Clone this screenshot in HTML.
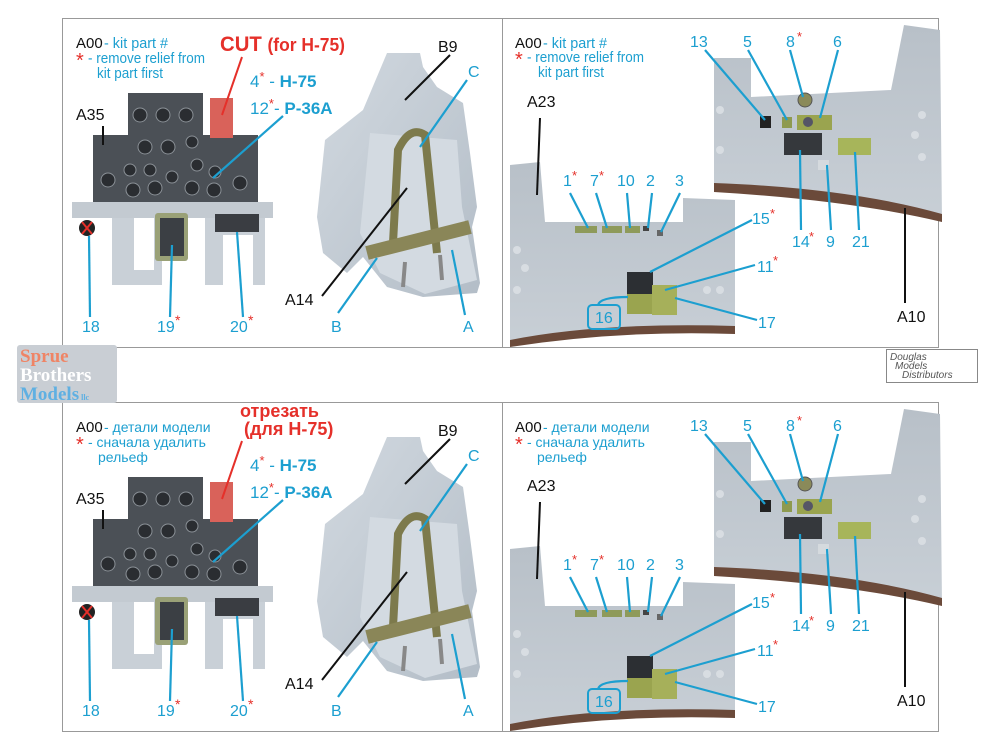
<!DOCTYPE html>
<html><head><meta charset="utf-8"><style>
html,body{margin:0;padding:0;background:#fff;width:1000px;height:750px;overflow:hidden}
svg text{font-family:"Liberation Sans",sans-serif}
.b{fill:#1c9fd0}.k{fill:#111}.r{fill:#e5302a}
.lb{stroke:#1c9fd0;stroke-width:2.2;fill:none}
.lk{stroke:#111;stroke-width:2;fill:none}
</style></head><body>
<svg width="1000" height="750" viewBox="0 0 1000 750" xmlns="http://www.w3.org/2000/svg">
<defs>
<linearGradient id="gs" x1="0" y1="0" x2="1" y2="1"><stop offset="0" stop-color="#d2d9e0"/><stop offset="1" stop-color="#b3bdc7"/></linearGradient>
<linearGradient id="gw" x1="0" y1="0" x2="0" y2="1"><stop offset="0" stop-color="#b8c0c8"/><stop offset="1" stop-color="#c8cfd6"/></linearGradient>
<g id="L">
 <rect x="72" y="202" width="201" height="16" fill="#c3cad1"/>
 <path d="M112 218h22v52h20v-52h8v67h-50z" fill="#c9d0d7"/>
 <path d="M205 218h60v67h-12v-50h-30v50h-18z" fill="#c9d0d7"/>
 <rect x="155" y="213" width="33" height="48" rx="3" fill="#9aa177"/>
 <rect x="160" y="218" width="24" height="38" fill="#3b3f44"/>
 <rect x="215" y="214" width="44" height="18" fill="#3a3d42"/>
 <circle cx="87" cy="228" r="8" fill="#222"/><path d="M82 222l10 12M92 222l-10 12" stroke="#e5302a" stroke-width="2"/>
 <path d="M128 93h75v42h55v67H93v-67h35z" fill="#4b5056"/>
 <g fill="#2a2d31" stroke="#8a9096" stroke-width="1">
 <circle cx="140" cy="115" r="7"/><circle cx="163" cy="115" r="7"/><circle cx="186" cy="115" r="7"/>
 <circle cx="145" cy="147" r="7"/><circle cx="168" cy="147" r="7"/><circle cx="192" cy="142" r="6"/>
 <circle cx="130" cy="170" r="6"/><circle cx="150" cy="170" r="6"/><circle cx="172" cy="177" r="6"/><circle cx="197" cy="165" r="6"/><circle cx="215" cy="172" r="6"/>
 <circle cx="133" cy="190" r="7"/><circle cx="155" cy="188" r="7"/><circle cx="192" cy="188" r="7"/><circle cx="214" cy="190" r="7"/><circle cx="108" cy="180" r="7"/><circle cx="240" cy="183" r="7"/>
 </g>
 <rect x="210" y="98" width="23" height="40" fill="#d9625a"/>
 <path d="M387 53L420 53L423 67L437 87L463 103L470 153L477 207L472 227L480 283L477 293L423 297L387 287L363 257L347 273L323 253L317 217L325 140L363 110Z" fill="url(#gs)"/>
 <path d="M370 133L457 140L462 207L477 280L425 294L380 273L360 233Z" fill="#d3dae1"/>
 <path d="M393 243L398 150Q410 125 425 135L437 253" stroke="#7d7a4c" stroke-width="8" fill="none"/>
 <path d="M367 253L470 227" stroke="#8a8658" stroke-width="14" fill="none"/>
 <path d="M405 262l-2 25M440 255l2 25" stroke="#888" stroke-width="4"/>
 <text x="76" y="48" font-size="15" class="k">A00</text>
 <text x="76" y="120" font-size="16" class="k">A35</text>
 <line x1="103" y1="126" x2="103" y2="145" class="lk"/>
 <text x="438" y="52" font-size="16" class="k">B9</text>
 <text x="468" y="77" font-size="16" class="b">C</text>
 <text x="285" y="305" font-size="16" class="k">A14</text>
 <text x="331" y="332" font-size="16" class="b">B</text>
 <text x="463" y="332" font-size="16" class="b">A</text>
 <text x="82" y="332" font-size="16" class="b">18</text>
 <text x="157" y="332" font-size="16" class="b">19</text><text x="175" y="325" font-size="14" class="r">*</text>
 <text x="230" y="332" font-size="16" class="b">20</text><text x="248" y="325" font-size="14" class="r">*</text>
 <text x="250" y="87" font-size="17" class="b">4<tspan class="r" font-size="13" dy="-6">*</tspan><tspan dy="6"> - </tspan><tspan font-weight="bold">H-75</tspan></text>
 <text x="250" y="114" font-size="17" class="b">12<tspan class="r" font-size="13" dy="-6">*</tspan><tspan dy="6">- </tspan><tspan font-weight="bold">P-36A</tspan></text>
 <line x1="283" y1="116" x2="213" y2="178" class="lb"/>
 <line x1="90" y1="317" x2="89" y2="236" class="lb"/>
 <line x1="170" y1="317" x2="172" y2="245" class="lb"/>
 <line x1="243" y1="317" x2="237" y2="232" class="lb"/>
 <line x1="338" y1="313" x2="377" y2="258" class="lb"/>
 <line x1="465" y1="315" x2="452" y2="250" class="lb"/>
 <line x1="467" y1="80" x2="420" y2="147" class="lb"/>
 <line x1="450" y1="55" x2="405" y2="100" class="lk"/>
 <line x1="322" y1="296" x2="407" y2="188" class="lk"/>
 <line x1="242" y1="57" x2="222" y2="115" stroke="#e5302a" stroke-width="2"/>
</g>
<g id="R">
 <path d="M510 165L540 162L545 222L683 222L683 198L735 200L735 330Q640 322 580 335Q540 342 510 347Z" fill="url(#gw)"/>
 <path d="M510 340Q600 322 735 326L735 334Q620 330 510 347Z" fill="#6b4a3a"/>
 <g fill="#d8dde2"><circle cx="517" cy="250" r="4"/><circle cx="525" cy="268" r="4"/><circle cx="517" cy="290" r="4"/><circle cx="707" cy="290" r="4"/><circle cx="720" cy="290" r="4"/></g>
 <g fill="#8e9a5a"><rect x="575" y="226" width="22" height="7"/><rect x="602" y="226" width="20" height="7"/><rect x="625" y="226" width="15" height="7"/><rect x="643" y="226" width="6" height="5" fill="#444"/><rect x="657" y="230" width="6" height="6" fill="#666"/></g>
 <rect x="627" y="272" width="26" height="22" fill="#2c2f33"/>
 <rect x="627" y="294" width="28" height="20" fill="#9aa44f"/>
 <rect x="652" y="285" width="25" height="30" fill="#a6b05a"/>
 <path d="M714 58L751 58L751 97L891 90L904 25L940 30L942 220Q880 205 800 195Q750 190 714 190Z" fill="url(#gw)"/>
 <path d="M714 183Q850 188 942 214L942 222Q850 200 714 192Z" fill="#6b4a3a"/>
 <g fill="#d8dde2"><circle cx="922" cy="115" r="4"/><circle cx="915" cy="135" r="4"/><circle cx="922" cy="157" r="4"/><circle cx="720" cy="110" r="4"/><circle cx="720" cy="150" r="4"/></g>
 <rect x="760" y="116" width="11" height="12" fill="#222"/>
 <rect x="782" y="117" width="10" height="11" fill="#8e9a4f"/>
 <rect x="797" y="115" width="35" height="15" fill="#9aa44f"/><circle cx="808" cy="122" r="5" fill="#556"/>
 <circle cx="805" cy="100" r="7" fill="#8a8a5a" stroke="#555"/>
 <rect x="784" y="133" width="38" height="22" fill="#35383c"/>
 <rect x="838" y="138" width="33" height="17" fill="#a7b55a"/>
 <rect x="818" y="160" width="11" height="10" fill="#d5dade"/>
 <text x="515" y="48" font-size="15" class="k">A00</text>
 <text x="527" y="107" font-size="16" class="k">A23</text>
 <line x1="540" y1="118" x2="537" y2="195" class="lk"/>
 <text x="897" y="322" font-size="16" class="k">A10</text>
 <line x1="905" y1="303" x2="905" y2="208" class="lk"/>
 <g font-size="16" class="b">
 <text x="563" y="186">1</text><text x="590" y="186">7</text><text x="617" y="186">10</text><text x="646" y="186">2</text><text x="675" y="186">3</text>
 <text x="690" y="47">13</text><text x="743" y="47">5</text><text x="786" y="47">8</text><text x="833" y="47">6</text>
 <text x="752" y="224">15</text><text x="757" y="272">11</text><text x="758" y="328">17</text>
 <text x="792" y="247">14</text><text x="826" y="247">9</text><text x="852" y="247">21</text>
 <text x="595" y="323">16</text>
 </g>
 <g font-size="13" class="r"><text x="572" y="180">*</text><text x="599" y="180">*</text><text x="797" y="41">*</text><text x="770" y="218">*</text><text x="773" y="265">*</text><text x="809" y="241">*</text></g>
 <rect x="588" y="305" width="32" height="24" rx="4" fill="none" stroke="#1c9fd0" stroke-width="2"/>
 <path d="M598 305Q600 297 628 297" class="lb"/>
 <line x1="570" y1="193" x2="588" y2="228" class="lb"/>
 <line x1="596" y1="193" x2="607" y2="228" class="lb"/>
 <line x1="627" y1="193" x2="630" y2="228" class="lb"/>
 <line x1="652" y1="193" x2="648" y2="228" class="lb"/>
 <line x1="680" y1="193" x2="661" y2="232" class="lb"/>
 <line x1="752" y1="220" x2="650" y2="272" class="lb"/>
 <line x1="755" y1="265" x2="665" y2="290" class="lb"/>
 <line x1="757" y1="320" x2="675" y2="298" class="lb"/>
 <line x1="705" y1="50" x2="765" y2="120" class="lb"/>
 <line x1="748" y1="50" x2="787" y2="120" class="lb"/>
 <line x1="790" y1="50" x2="803" y2="97" class="lb"/>
 <line x1="838" y1="50" x2="820" y2="118" class="lb"/>
 <line x1="801" y1="230" x2="800" y2="150" class="lb"/>
 <line x1="831" y1="230" x2="827" y2="165" class="lb"/>
 <line x1="859" y1="230" x2="855" y2="152" class="lb"/>
</g>
</defs>
<rect x="62.5" y="18.5" width="876" height="329" fill="none" stroke="#999" stroke-width="1"/>
<line x1="502.5" y1="18" x2="502.5" y2="348" stroke="#999"/>
<rect x="62.5" y="402.5" width="876" height="329" fill="none" stroke="#999" stroke-width="1"/>
<line x1="502.5" y1="402" x2="502.5" y2="732" stroke="#999"/>
<use href="#L"/><use href="#R"/>
<g transform="translate(0,384)"><use href="#L"/><use href="#R"/></g>
<text x="104" y="48" font-size="15" class="b" textLength="64" lengthAdjust="spacingAndGlyphs">- kit part #</text>
<text x="76" y="67" font-size="20" class="r">*</text><text x="88" y="63" font-size="15" class="b" textLength="117" lengthAdjust="spacingAndGlyphs">- remove relief from</text>
<text x="97" y="78" font-size="15" class="b" textLength="66" lengthAdjust="spacingAndGlyphs">kit part first</text>
<text x="220" y="51" font-size="21" font-weight="bold" class="r" textLength="125" lengthAdjust="spacingAndGlyphs">CUT <tspan font-size="18">(for H-75)</tspan></text>
<text x="543" y="48" font-size="15" class="b" textLength="64" lengthAdjust="spacingAndGlyphs">- kit part #</text>
<text x="515" y="66" font-size="20" class="r">*</text><text x="527" y="62" font-size="15" class="b" textLength="117" lengthAdjust="spacingAndGlyphs">- remove relief from</text>
<text x="538" y="77" font-size="15" class="b" textLength="66" lengthAdjust="spacingAndGlyphs">kit part first</text>
<text x="104" y="432" font-size="14" class="b">- детали модели</text>
<text x="76" y="451" font-size="20" class="r">*</text><text x="88" y="447" font-size="14" class="b">- сначала удалить</text>
<text x="98" y="462" font-size="14" class="b">рельеф</text>
<text x="240" y="417" font-size="18" font-weight="bold" class="r">отрезать</text>
<text x="244" y="435" font-size="18" font-weight="bold" class="r">(для H-75)</text>
<text x="543" y="432" font-size="14" class="b">- детали модели</text>
<text x="515" y="451" font-size="20" class="r">*</text><text x="527" y="447" font-size="14" class="b">- сначала удалить</text>
<text x="537" y="462" font-size="14" class="b">рельеф</text>
<rect x="17" y="345" width="100" height="58" rx="3" fill="#c9ced4"/>
<g font-family="Liberation Serif,serif" font-weight="bold" font-size="19">
<text x="20" y="362" fill="#ef8465" style="font-family:'Liberation Serif',serif">Sprue</text>
<text x="20" y="381" fill="#fff" style="font-family:'Liberation Serif',serif">Brothers</text>
<text x="20" y="400" fill="#5fb0e2" style="font-family:'Liberation Serif',serif">Models<tspan font-size="8"> llc</tspan></text></g>
<rect x="886.5" y="349.5" width="91" height="33" fill="#fff" stroke="#888"/>
<g font-style="italic" font-size="10" fill="#555">
<text x="890" y="360">Douglas</text><text x="895" y="369">Models</text><text x="902" y="378">Distributors</text></g>
</svg>
</body></html>
